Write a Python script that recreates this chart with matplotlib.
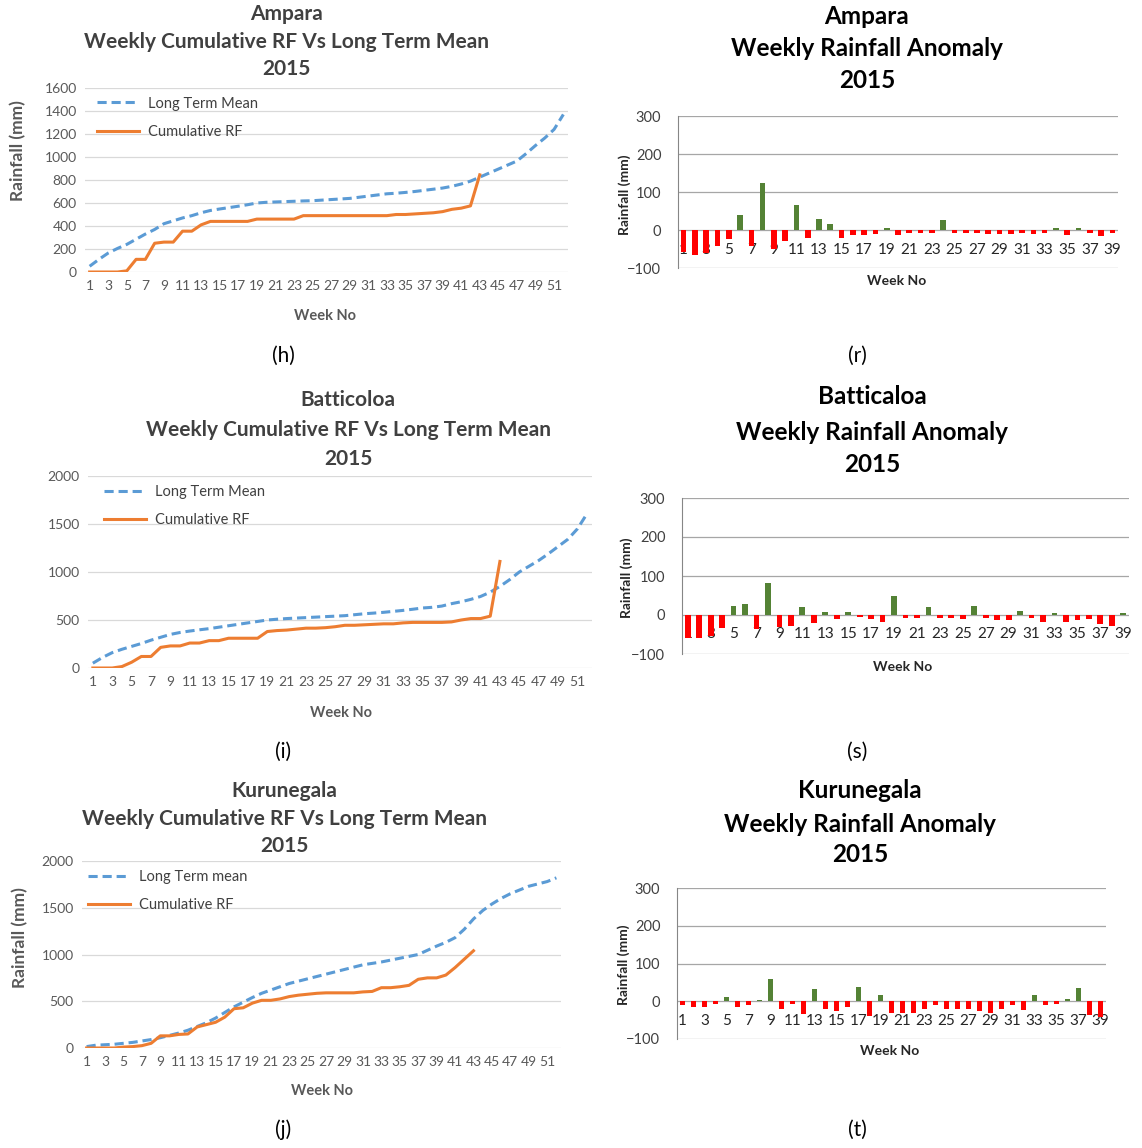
import numpy as np
import matplotlib
matplotlib.use("Agg")
import matplotlib.pyplot as plt

plt.rcParams['font.family'] = ['Lato', 'DejaVu Sans']

# ---- data ----
ampara_ltm = [50, 110, 165, 205, 240, 285, 330, 370, 420, 445, 470, 490, 515, 535, 548, 560,
              572, 585, 600, 606, 609, 612, 615, 618, 620, 625, 630, 635, 640, 650, 660, 670,
              680, 685, 692, 700, 710, 720, 730, 745, 765, 790, 825, 860, 895, 930, 965, 1030,
              1100, 1165, 1240, 1370]
ampara_cum = [0, 0, 0, 0, 10, 110, 110, 250, 260, 260, 355, 355, 410, 440, 440, 440, 440, 440,
              460, 460, 460, 460, 460, 490, 490, 490, 490, 490, 490, 490, 490, 490, 490, 500,
              500, 505, 510, 515, 525, 545, 555, 575, 845]

batti_ltm = [50, 110, 160, 195, 225, 255, 290, 320, 350, 370, 385, 398, 410, 425, 440, 455,
             470, 485, 500, 508, 515, 520, 525, 530, 535, 540, 545, 555, 565, 572, 580, 590,
             600, 612, 625, 632, 645, 670, 690, 715, 745, 790, 850, 920, 1000, 1060, 1120, 1190,
             1265, 1340, 1450, 1610]
batti_cum = [0, 0, 0, 15, 60, 120, 120, 215, 230, 230, 260, 260, 285, 285, 310, 310, 310, 310,
             380, 390, 395, 405, 415, 415, 420, 430, 445, 445, 450, 455, 460, 460, 470, 475,
             475, 475, 475, 480, 500, 515, 515, 540, 1110]

kuru_ltm = [15, 30, 35, 40, 50, 60, 75, 90, 110, 135, 160, 190, 230, 270, 320, 380, 440, 490,
            540, 585, 620, 655, 690, 715, 740, 765, 790, 815, 840, 865, 890, 905, 920, 940, 960,
            980, 1000, 1045, 1090, 1130, 1180, 1270, 1380, 1470, 1540, 1600, 1650, 1690, 1730,
            1755, 1780, 1820]
kuru_cum = [0, 0, 0, 0, 10, 15, 25, 50, 130, 130, 145, 150, 225, 250, 275, 330, 420, 430, 480,
            510, 510, 525, 550, 565, 575, 585, 590, 590, 590, 590, 600, 605, 645, 645, 655, 670,
            735, 750, 750, 780, 860, 950, 1040]

ampara_anom = [-58, -65, -60, -43, -23, 40, -41, 123, -50, -28, 65, -21, 30, 17, -20, -14, -14,
               -10, 4, -13, -7, -7, -7, 27, -8, -8, -8, -10, -10, -10, -8, -10, -7, 5, -13, 5,
               -7, -16, -8]
batti_anom = [-60, -60, -55, -33, 23, 27, -36, 82, -30, -27, 20, -20, 7, -10, 7, -6, -10, -17,
              49, -7, -7, 20, -7, -8, -10, 23, -7, -13, -13, 10, -7, -17, 4, -17, -14, -10, -24,
              -27, 4]
kuru_anom = [-9, -16, -16, -6, 10, -16, -10, 4, 58, -20, -6, -33, 33, -20, -25, -14, 39, -40,
             17, -30, -30, -30, -20, -10, -20, -20, -20, -27, -30, -20, -10, -24, 17, -10, -6, 7,
             35, -37, -42]

W, H = 1142, 1148
fig = plt.figure(figsize=(W / 100, H / 100), dpi=100)

BLUE, ORANGE = '#5B9BD5', '#ED7D31'
GREEN, RED = '#548235', '#FF0000'


def add_ax(l, t, r, b):
    return fig.add_axes([l / W, 1 - b / H, (r - l) / W, (b - t) / H])


def ftext(x, y, s, **kw):
    fig.text(x / W, 1 - y / H, s, ha='center', va='center', **kw)


def cum_chart(ax, ltm, cum, ymax, step, ltm_label, leg_x):
    ax.plot(np.arange(1, len(ltm) + 1), ltm, color=BLUE, lw=2.2, ls=(0, (3, 1.6)),
            label=ltm_label)
    ax.plot(np.arange(1, len(cum) + 1), cum, color=ORANGE, lw=2.2, label='Cumulative RF')
    ax.set_xlim(0.5, 52.5)
    ax.set_ylim(0, ymax)
    ax.set_yticks(np.arange(0, ymax + 1, step))
    ax.set_xticks(np.arange(1, 53, 2))
    ax.grid(axis='y', color='#D9D9D9', lw=0.9)
    ax.set_axisbelow(True)
    for s in ax.spines.values():
        s.set_visible(False)
    ax.tick_params(length=0, labelsize=10, colors='#595959', pad=6)
    ax.legend(loc='upper left', bbox_to_anchor=(leg_x, 0.985), frameon=False, fontsize=10.5,
              handlelength=2.9, handletextpad=0.6, labelspacing=1.0, borderaxespad=0,
              labelcolor='#404040')


def anom_chart(ax, vals):
    vals = np.array(vals)
    weeks = np.arange(1, len(vals) + 1)
    ax.bar(weeks, vals, width=0.5, color=np.where(vals >= 0, GREEN, RED))
    ax.set_xlim(0.5, 39.5)
    ax.set_ylim(-100, 300)
    ax.set_yticks(np.arange(-100, 301, 100))
    ax.set_xticks(np.arange(1, 40, 2))
    ax.grid(axis='y', color='#A6A6A6', lw=0.9)
    ax.set_axisbelow(True)
    ax.spines['top'].set_visible(False)
    ax.spines['right'].set_visible(False)
    ax.spines['left'].set_color('#868686')
    ax.spines['bottom'].set_position(('data', 0))
    ax.spines['bottom'].set_visible(False)
    ax.tick_params(axis='x', length=0, labelsize=11, colors='#262626', pad=9)
    ax.tick_params(axis='y', length=0, labelsize=10.5, colors='#404040', pad=12)


# ---- left column: cumulative ----
ax = add_ax(85, 88, 568, 272)
cum_chart(ax, ampara_ltm, ampara_cum, 1600, 200, 'Long Term Mean', 0.012)
ax = add_ax(88, 476, 592, 668)
cum_chart(ax, batti_ltm, batti_cum, 2000, 500, 'Long Term Mean', 0.02)
ax = add_ax(82, 861, 561, 1048)
cum_chart(ax, kuru_ltm, kuru_cum, 2000, 500, 'Long Term mean', 0.0)

# ---- right column: anomalies ----
ax = add_ax(678, 116, 1118, 268)
anom_chart(ax, ampara_anom)
ax = add_ax(682, 498, 1129, 654)
anom_chart(ax, batti_anom)
ax = add_ax(677, 888, 1106, 1039)
anom_chart(ax, kuru_anom)

# ---- titles ----
lt = dict(fontsize=15, fontweight='bold', color='#404040')
rt = dict(fontsize=17.5, fontweight='bold', color='black')
for x, ys, name in [(286, (14, 42, 69), 'Ampara'), (348, (400, 430, 459), 'Batticoloa'),
                    (284, (791, 819, 846), 'Kurunegala')]:
    ftext(x, ys[0], name, **lt)
    ftext(x, ys[1], 'Weekly Cumulative RF Vs Long Term Mean', **lt)
    ftext(x, ys[2], '2015', **lt)
for x, ys, name in [(867, (16, 49, 81), 'Ampara'), (872, (397, 432, 464), 'Batticaloa'),
                    (860, (791, 824, 855), 'Kurunegala')]:
    ftext(x, ys[0], name, **rt)
    ftext(x, ys[1], 'Weekly Rainfall Anomaly', **rt)
    ftext(x, ys[2], '2015', **rt)

# axis titles
for x, y in [(325, 316), (341, 713), (322, 1091)]:
    ftext(x, y, 'Week No', fontsize=10.5, fontweight='bold', color='#595959')
for x, y in [(897, 281), (903, 667), (890, 1051)]:
    ftext(x, y, 'Week No', fontsize=10, fontweight='bold', color='#262626')
for x, y in [(18, 151), (20, 938)]:
    ftext(x, y, 'Rainfall (mm)', fontsize=12.5, fontweight='bold', color='#595959', rotation=90)
for x, y in [(625, 195), (627, 578), (624, 965)]:
    ftext(x, y, 'Rainfall (mm)', fontsize=10, fontweight='bold', color='#262626', rotation=90)

# panel labels
for x, y, s in [(283, 356, '(h)'), (857, 356, '(r)'), (283, 752, '(i)'), (857, 752, '(s)'),
                (283, 1130, '(j)'), (857, 1130, '(t)')]:
    ftext(x, y, s, fontsize=15, color='black')

fig.savefig('out.png', dpi=100, facecolor='white')
